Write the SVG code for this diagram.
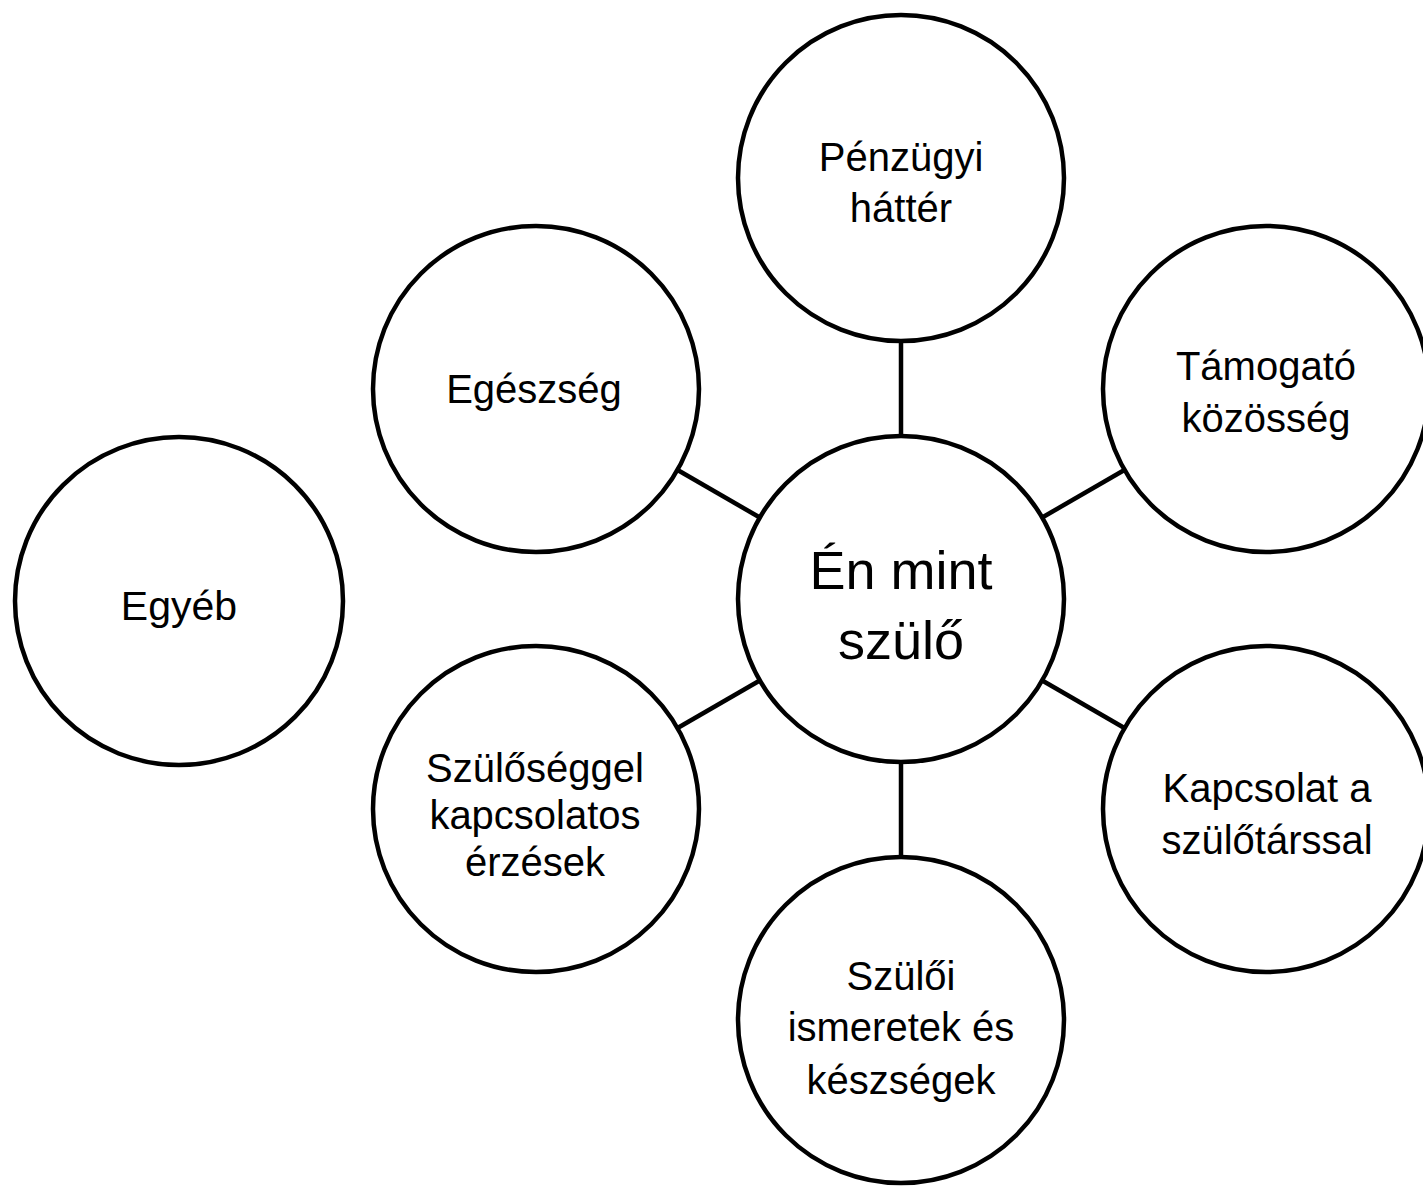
<svg xmlns="http://www.w3.org/2000/svg" width="1423" height="1187" viewBox="0 0 1423 1187">
<style>
.node circle{fill:#fff;stroke:#000;stroke-width:4.5}
.node text{font-family:"Liberation Sans",Arial,Helvetica,sans-serif;font-size:40px;fill:#000;text-anchor:middle}
#center text{font-size:54px}
#egyeb text{font-size:41px}
#connectors line{stroke:#000;stroke-width:4.5}
</style>
<rect width="1423" height="1187" fill="#fff"/>
<g id="connectors">
<line x1="901" y1="341" x2="901" y2="436"/>
<line x1="901" y1="762" x2="901" y2="857"/>
<line x1="677.6" y1="470" x2="759.8" y2="517.5"/>
<line x1="1124.4" y1="470" x2="1042.2" y2="517.5"/>
<line x1="677.6" y1="728" x2="759.8" y2="680.5"/>
<line x1="1124.4" y1="728" x2="1042.2" y2="680.5"/>
</g>
<g id="center" class="node">
<circle cx="901" cy="599" r="163"/>
<text x="901" y="589">Én mint</text>
<text x="901" y="659">szülő</text>
</g>
<g id="penzugyi" class="node">
<circle cx="901" cy="178" r="163"/>
<text x="901" y="171">Pénzügyi</text>
<text x="901" y="222">háttér</text>
</g>
<g id="tamogato" class="node">
<circle cx="1266" cy="389" r="163"/>
<text x="1266" y="380">Támogató</text>
<text x="1266" y="432">közösség</text>
</g>
<g id="egeszseg" class="node">
<circle cx="536" cy="389" r="163"/>
<text x="534" y="403">Egészség</text>
</g>
<g id="egyeb" class="node">
<circle cx="179" cy="601" r="164"/>
<text x="179" y="620">Egyéb</text>
</g>
<g id="szulosegg" class="node">
<circle cx="536" cy="809" r="163"/>
<text x="535" y="782">Szülőséggel</text>
<text x="535" y="829">kapcsolatos</text>
<text x="535" y="876">érzések</text>
</g>
<g id="kapcsolat" class="node">
<circle cx="1266" cy="809" r="163"/>
<text x="1267" y="802">Kapcsolat a</text>
<text x="1267" y="854">szülőtárssal</text>
</g>
<g id="szuloi" class="node">
<circle cx="901" cy="1020" r="163"/>
<text x="901" y="990">Szülői</text>
<text x="901" y="1041">ismeretek és</text>
<text x="901" y="1094">készségek</text>
</g>
</svg>
